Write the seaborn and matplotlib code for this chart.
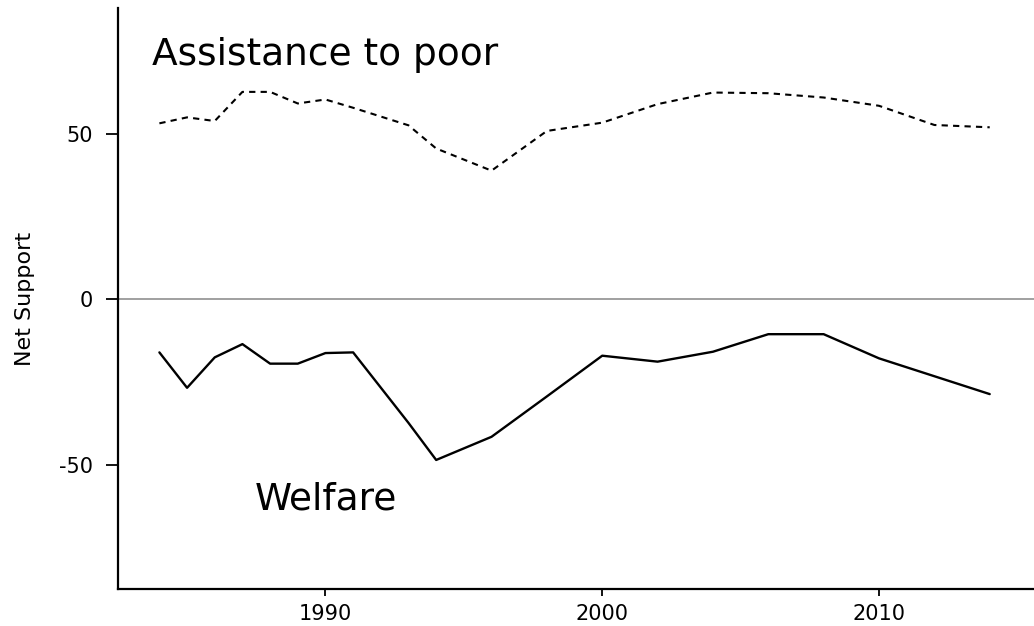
import numpy as np
import pandas as pd
import matplotlib
matplotlib.use("Agg")
import matplotlib.pyplot as plt
import seaborn as sns

# Data
years = [1984, 1985, 1986, 1987, 1988, 1989, 1990, 1991, 1993, 1994,
         1996, 1998, 2000, 2002, 2004, 2006, 2008, 2010, 2012, 2014]
assistance = [53.1, 54.9, 53.8, 62.6, 62.6, 59.1, 60.3, 57.8, 52.5, 45.5,
              38.8, 50.8, 53.3, 58.9, 62.4, 62.2, 60.9, 58.4, 52.6, 51.9]
welfare = [-16.1, -26.8, -17.6, -13.6, -19.5, -19.5, -16.3, -16.1, -37.4, -48.6,
           -41.6, -29.4, -17.1, -18.9, -15.9, -10.6, -10.6, -17.9, -23.3, -28.7]
yticks = [-50, 0, 50]
xticks = [1990, 2000, 2010]

df = pd.DataFrame({"year": years, "assistance": assistance, "welfare": welfare})

sns.set_style("ticks")
plt.rcParams['font.family'] = ['DejaVu Sans']
plt.rcParams['axes.unicode_minus'] = False
plt.rcParams['text.color'] = 'black'
plt.rcParams['axes.labelcolor'] = 'black'

fig = plt.figure(figsize=(10.34, 6.26), dpi=100)
ax = fig.add_axes([0.114, 0.059, 0.886, 0.928])

# zero reference line
ax.axhline(0, color="#999999", lw=1.3, zorder=1)

sns.lineplot(data=df, x="year", y="assistance", ax=ax, color="black", lw=1.5,
             linestyle=(0, (3, 2.5)), zorder=3)
sns.lineplot(data=df, x="year", y="welfare", ax=ax, color="black", lw=1.7, zorder=3)

ax.text(1990, 70.7, "Assistance to poor", ha="center", va="baseline", fontsize=27, color="black")
ax.text(1990, -63.7, "Welfare", ha="center", va="baseline", fontsize=27, color="black")

ax.set_xlim(1982.5, 2015.6)
ax.set_ylim(-87.6, 87.9)
ax.set_xticks(xticks)
ax.set_yticks(yticks)
ax.set_xlabel("")
ax.set_ylabel("Net Support", fontsize=16, color="black")
ax.yaxis.set_label_coords(-0.09, 0.5)

for side in ["top", "right"]:
    ax.spines[side].set_visible(False)
for side in ["left", "bottom"]:
    ax.spines[side].set_linewidth(1.6)
    ax.spines[side].set_color("black")

ax.tick_params(axis="x", length=5, width=1.3, pad=6, labelsize=15, colors="black")
ax.tick_params(axis="y", length=9, width=1.3, pad=9, labelsize=15, colors="black")

plt.savefig("out.png", dpi=100)
